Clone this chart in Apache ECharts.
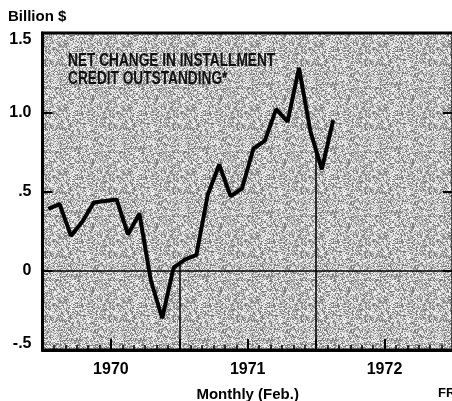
<!DOCTYPE html>
<html>
<head>
<meta charset="utf-8">
<script src="https://cdn.jsdelivr.net/npm/echarts@6/dist/echarts.min.js"></script>
<style>
html,body{margin:0;padding:0;background:#fff;}
#chart{width:452px;height:401px;}
</style>
</head>
<body>
<div id="chart"></div>
<script>
// net change in installment credit, billion $, monthly Jan 1970 .. Feb 1972
var netChange = [0.39, 0.42, 0.22, 0.31, 0.43, 0.44, 0.45, 0.23, 0.36, -0.06, -0.30, 0.02,
                 0.07, 0.10, 0.48, 0.67, 0.47, 0.52, 0.77, 0.82, 1.02, 0.94, 1.28, 0.88,
                 0.64, 0.95];
var years = ['1970', '1971', '1972'];
var yearBreaks = [12, 24]; // month where a new year starts
var yMin = -0.5, yMax = 1.5, yStep = 0.5;

var font = '"Liberation Sans", Arial, sans-serif';

// grey stipple like the printed screen
var makeStipple = function(){
    var c = document.createElement('canvas');
    c.width = 64; c.height = 64;
    var ctx = c.getContext('2d');
    var img = ctx.createImageData(64, 64);
    for (var y = 0; y < 64; y++) {
        for (var x = 0; x < 64; x++) {
            var h = (x * 374761393 + y * 668265263) | 0;
            h = Math.imul(h ^ (h >>> 13), 1274126177);
            h = (h ^ (h >>> 16)) >>> 0;
            var t = (h % 1000) / 1000;
            var g = t < 0.3 ? 125 : (t < 0.6 ? 178 : 236);
            var k = (y * 64 + x) * 4;
            img.data[k] = img.data[k + 1] = img.data[k + 2] = g;
            img.data[k + 3] = 255;
        }
    }
    ctx.putImageData(img, 0, 0);
    return c;
};

var points = netChange.map(function(v, i){ return [i + 0.5, v]; });

// drop lines at the year change, from the curve down to the axis
var dropLines = yearBreaks.map(function(m){
    var yAt = (netChange[m - 1] + netChange[m]) / 2;
    return [{coord: [m, yAt]}, {coord: [m, yMin]}];
});

// 1.5 / 1.0 / .5 / 0 / -.5 ; end labels pulled in a bit like the print
var yLabel = function(v){
    var s = v === 0 ? '0' : v.toFixed(1).replace(/^0/, '').replace(/^-0/, '-');
    if (v === yMax) return '{hi|' + s + '}';
    if (v === yMin) return '{lo|' + s + '}';
    return s;
};
var labelFont = {color: '#000', fontSize: 16, fontWeight: 'bold', fontFamily: font};

var chart = echarts.init(document.getElementById('chart'), null, {renderer: 'canvas'});
var option = {
    animation: false,
    grid: {
        left: 42.5, top: 33, width: 410.4, height: 317,
        outerBoundsMode: 'none', // keep grid where it is, the frame runs off the right edge
        show: true,
        backgroundColor: {image: makeStipple(), repeat: 'repeat'},
        borderColor: '#000', borderWidth: 3
    },
    xAxis: {
        type: 'value', min: 0, max: 36, interval: 6,
        name: 'Monthly (Feb.)', nameLocation: 'middle', nameGap: 37,
        nameTextStyle: {color: '#000', fontSize: 15, fontWeight: 'bold', fontFamily: font},
        axisLine: {show: true, onZero: false, lineStyle: {color: '#000', width: 3}},
        axisTick: {show: true, inside: true, length: 11, lineStyle: {color: '#000', width: 2}},
        minorTick: {show: true, splitNumber: 6, length: 5, lineStyle: {color: '#000', width: 1.5}},
        splitLine: {show: false},
        axisLabel: {
            margin: 12, color: '#000', fontSize: 16, fontWeight: 'bold', fontFamily: font,
            formatter: function(v){ return v % 12 === 6 ? years[(v - 6) / 12] : ''; }
        }
    },
    yAxis: [{
        type: 'value', min: yMin, max: yMax, interval: yStep,
        axisLine: {show: true, lineStyle: {color: '#000', width: 3}},
        axisTick: {show: true, inside: true, length: 10, lineStyle: {color: '#000', width: 2}},
        splitLine: {show: false},
        axisLabel: {
            margin: 11, color: '#000', fontSize: 16, fontWeight: 'bold', fontFamily: font, formatter: yLabel,
            rich: {
                hi: Object.assign({padding: [13, 0, 0, 0]}, labelFont),
                lo: Object.assign({padding: [0, 0, 12, 0]}, labelFont)
            }
        }
    }, {
        type: 'value', min: yMin, max: yMax, interval: yStep, position: 'right',
        axisLine: {show: false},
        axisTick: {show: true, inside: true, length: 10, lineStyle: {color: '#000', width: 2}},
        splitLine: {show: false},
        axisLabel: {show: false}
    }],
    series: [{
        type: 'line',
        data: points,
        symbol: 'none',
        lineStyle: {color: '#000', width: 4},
        markLine: {
            silent: true,
            symbol: ['none', 'none'],
            label: {show: false},
            lineStyle: {color: '#000', width: 1.5, type: 'solid'},
            data: [{yAxis: 0}].concat(dropLines)
        }
    }],
    graphic: [
        {type: 'text', left: 8, top: 9, style: {text: 'Billion $', font: 'bold 15px ' + font, fill: '#000'}},
        {type: 'text', x: 68, y: 52, scaleX: 0.76, z: 10,
            style: {text: 'NET CHANGE IN INSTALLMENT\nCREDIT OUTSTANDING*', font: 'bold 18px ' + font, lineHeight: 18, fill: '#111'}},
        {type: 'text', x: 438, y: 387, style: {text: 'FRB', font: 'bold 13px ' + font, fill: '#000'}}
    ]
};
chart.setOption(option);
</script>
</body>
</html>
